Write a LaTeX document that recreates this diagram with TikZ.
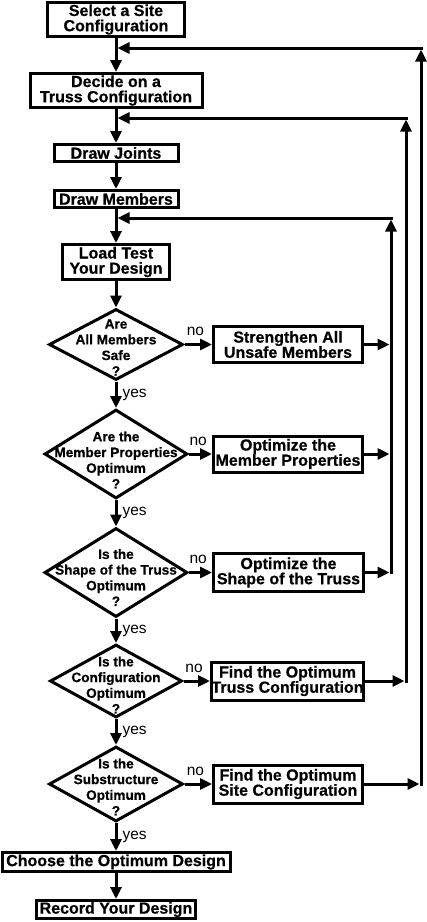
\documentclass[tikz,border=0pt]{standalone}
\usepackage{fontspec}
\setmainfont{Liberation Sans}
\newfontfamily\hvy{Liberation Sans Bold}[FakeBold=0.6]
\usetikzlibrary{arrows.meta,shapes.geometric}
\begin{document}
\begin{tikzpicture}[x=1pt,y=-1pt,
  box/.style={draw,line width=3pt,inner sep=0pt,align=center,font=\hvy\fontsize{16}{15.2}\selectfont},
  dia/.style={draw,diamond,line width=3pt,inner sep=0pt},
  dtext/.style={align=center,inner sep=0pt,font=\hvy\fontsize{13.6}{15.7}\selectfont},
  lbl/.style={inner sep=0pt,font=\fontsize{15.5}{15}\selectfont},
  arr/.style={line width=3pt,-{Triangle[length=12pt,width=11pt]}},
  ln/.style={line width=3pt}]
\useasboundingbox[fill=white] (0,0) rectangle (427,922);

% main column boxes
\node[box,minimum width=137pt,minimum height=34pt] (b1) at (116,19.5) {Select a Site\\Configuration};
\node[box,minimum width=172pt,minimum height=34pt] (b2) at (116,90.5) {Decide on a\\Truss Configuration};
\node[box,minimum width=124pt,minimum height=17pt] (b3) at (116,153) {Draw Joints};
\node[box,minimum width=124pt,minimum height=17pt] (b4) at (116,199) {Draw Members};
\node[box,minimum width=107pt,minimum height=35pt] (b5) at (116,262) {Load Test\\Your Design};

% decisions
\node[dia,minimum width=134pt,minimum height=71pt] (d1) at (116,344.5) {};
\node[dia,minimum width=143pt,minimum height=89pt] (d2) at (116,454) {};
\node[dia,minimum width=143pt,minimum height=89pt] (d3) at (116,572.5) {};
\node[dia,minimum width=132pt,minimum height=73pt] (d4) at (116,681) {};
\node[dia,minimum width=134pt,minimum height=75pt] (d5) at (116,784) {};

\node[dtext,yshift=-3pt] (t1) at (d1) {Are\\All Members\\Safe\\?};
\node[dtext,yshift=-6pt] (t2) at (d2) {Are the\\Member Properties\\Optimum\\?};
\node[dtext,yshift=-5pt] (t3) at (d3) {Is the\\Shape of the Truss\\Optimum\\?};
\node[dtext,yshift=-4pt] (t4) at (d4) {Is the\\Configuration\\Optimum\\?};
\node[dtext,yshift=-3pt] (t5) at (d5) {Is the\\Substructure\\Optimum\\?};

% side boxes
\node[box,minimum width=149pt,minimum height=36pt] (s1) at (288,344.5) {Strengthen All\\Unsafe Members};
\node[box,minimum width=149pt,minimum height=36pt] (s2) at (288,454) {Optimize the\\Member Properties};
\node[box,minimum width=150pt,minimum height=38pt] (s3) at (288.5,572.5) {Optimize the\\Shape of the Truss};
\node[box,minimum width=148pt,minimum height=38pt] (s4) at (287.5,681) {Find the Optimum\\Truss Configuration};
\node[box,minimum width=149pt,minimum height=38pt] (s5) at (288,784) {Find the Optimum\\Site Configuration};

% final boxes
\node[box,minimum width=228pt,minimum height=19pt] (c1) at (116,862) {Choose the Optimum Design};
\node[box,minimum width=159pt,minimum height=18pt] (r1) at (116,909.5) {Record Your Design};

% main flow
\draw[arr] (b1.south) -- (b2.north);
\draw[arr] (b2.south) -- (b3.north);
\draw[arr] (b3.south) -- (b4.north);
\draw[arr] (b4.south) -- (b5.north);
\draw[arr] (b5.south) -- (d1.north);
\draw[arr] (d1.south) -- (d2.north) node[lbl,midway,anchor=west,xshift=5pt] {yes};
\draw[arr] (d2.south) -- (d3.north) node[lbl,midway,anchor=west,xshift=5pt] {yes};
\draw[arr] (d3.south) -- (d4.north) node[lbl,midway,anchor=west,xshift=5pt] {yes};
\draw[arr] (d4.south) -- (d5.north) node[lbl,midway,anchor=west,xshift=5pt] {yes};
\draw[arr] (d5.south) -- (c1.north) node[lbl,midway,anchor=west,xshift=5pt] {yes};
\draw[arr] (c1.south) -- (r1.north);

% no branches
\draw[arr] (d1.east) -- (s1.west) node[lbl,pos=0.4,yshift=13pt] {no};
\draw[arr] (d2.east) -- (s2.west) node[lbl,pos=0.4,yshift=13pt] {no};
\draw[arr] (d3.east) -- (s3.west) node[lbl,pos=0.4,yshift=13pt] {no};
\draw[arr] (d4.east) -- (s4.west) node[lbl,pos=0.4,yshift=13pt] {no};
\draw[arr] (d5.east) -- (s5.west) node[lbl,pos=0.4,yshift=13pt] {no};

% feedback loops
\coordinate (A) at (391,218);
\coordinate (B) at (406,118);
\coordinate (C) at (421,48);

\draw[arr,shorten >=1.5pt] (s1.east) -- (s1.east -| A);
\draw[arr,shorten >=1.5pt] (s2.east) -- (s2.east -| A);
\draw[arr,shorten >=1.5pt] (s3.east) -- (s3.east -| A);
\draw[arr,shorten >=1.5pt] (s4.east) -- (s4.east -| B);
\draw[arr,shorten >=1.5pt] (s5.east) -- (s5.east -| C);

\draw[arr,shorten >=1.5pt] ([yshift=-1.5pt]s3.east -| A) -- (A);
\draw[arr,shorten >=1.5pt] ([yshift=-1.5pt]s4.east -| B) -- (B);
\draw[arr,shorten >=1.5pt] ([yshift=-1.5pt]s5.east -| C) -- (C);

\draw[arr,shorten >=1.5pt] ([xshift=1.5pt]A) -- (A -| b4.south);
\draw[arr,shorten >=1.5pt] ([xshift=1.5pt]B) -- (B -| b2.south);
\draw[arr,shorten >=1.5pt] ([xshift=1.5pt]C) -- (C -| b1.south);
\end{tikzpicture}
\end{document}
